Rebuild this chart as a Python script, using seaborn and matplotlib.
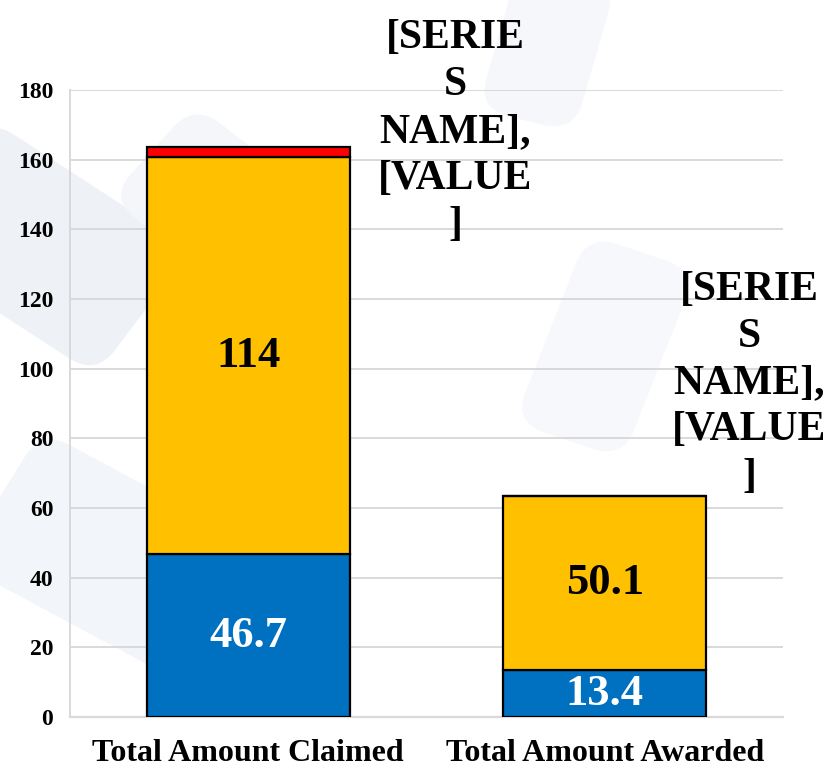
import matplotlib
matplotlib.use("Agg")
import matplotlib.pyplot as plt
import seaborn as sns
import numpy as np
from matplotlib.patches import FancyBboxPatch
import matplotlib.transforms as mtransforms

# data
categories = ["Total Amount Claimed", "Total Amount Awarded"]
blue_vals = [46.7, 13.4]
yellow_vals = [114, 50.1]
red_vals = [2.9, 0.0]
yticks = list(range(0, 181, 20))

BLUE = "#0070C0"
YELLOW = "#FFC000"
RED = "#FF0000"
GRID = "#D9D9D9"

sns.set_theme(style="white")
plt.rcParams["font.family"] = ["Liberation Serif", "DejaVu Serif"]
plt.rcParams["font.weight"] = "bold"

fig = plt.figure(figsize=(8.29, 7.7), dpi=100)
fig.patch.set_facecolor("white")

# faint watermark shapes on a background axes behind the chart
bg = fig.add_axes([0, 0, 1, 1], zorder=-10)
bg.set_xlim(0, 1)
bg.set_ylim(0, 1)
bg.axis("off")
shapes = [
    (-0.10, 0.58, 0.30, 0.20, -35, "#EEF2F7"),
    (-0.02, 0.18, 0.30, 0.20, -30, "#F2F5F9"),
    (0.16, 0.66, 0.20, 0.16, -40, "#F4F6F9"),
    (0.60, 0.84, 0.12, 0.20, -15, "#F5F7FA"),
    (0.66, 0.42, 0.14, 0.26, -20, "#F6F8FB"),
]
for (x0, y0, w, h, ang, col) in shapes:
    p = FancyBboxPatch((x0, y0), w, h, boxstyle="round,pad=0.0,rounding_size=0.04",
                       facecolor=col, edgecolor="none")
    p.set_transform(mtransforms.Affine2D().rotate_deg_around(x0 + w / 2, y0 + h / 2, ang)
                    + bg.transData)
    bg.add_patch(p)

ax = fig.add_axes([0.0844, 0.0688, 0.860, 0.8143])
ax.set_facecolor("none")

x_idx = np.arange(len(categories))
bottom_yellow = np.array(blue_vals)
bottom_red = bottom_yellow + np.array(yellow_vals)

bar_kw = dict(width=0.57, edgecolor="black", linewidth=1.6, zorder=3,
              saturation=1, native_scale=True)
sns.barplot(x=x_idx, y=blue_vals, color=BLUE, ax=ax, **bar_kw)
sns.barplot(x=x_idx, y=yellow_vals, bottom=bottom_yellow, color=YELLOW, ax=ax, **bar_kw)
sns.barplot(x=x_idx, y=red_vals, bottom=bottom_red, color=RED, ax=ax, **bar_kw)

ax.set_xlim(-0.5, 1.5)
ax.set_ylim(0, 180)
ax.set_yticks(yticks)
ax.set_xticks(x_idx)
ax.set_xticklabels(categories, fontsize=23, fontweight="bold")
ax.set_yticklabels([str(v) for v in yticks], fontsize=17, fontweight="bold")
ax.tick_params(axis="both", length=0, colors="black")
ax.tick_params(axis="x", pad=16)
ax.tick_params(axis="y", pad=12)

ax.yaxis.grid(True, color=GRID, linewidth=1.4, zorder=0)
ax.set_axisbelow(True)
for side in ["top", "right"]:
    ax.spines[side].set_visible(False)
ax.spines["left"].set_color(GRID)
ax.spines["left"].set_linewidth(1.4)
ax.spines["bottom"].set_color(GRID)
ax.spines["bottom"].set_linewidth(1.6)
ax.set_xlabel("")
ax.set_ylabel("")

# value labels
for i in x_idx:
    ax.text(i, blue_vals[i] / 2, f"{blue_vals[i]:g}", ha="center", va="center",
            fontsize=32, fontweight="bold", color="white", zorder=5)
    ax.text(i, bottom_yellow[i] + yellow_vals[i] / 2, f"{yellow_vals[i]:g}",
            ha="center", va="center", fontsize=32, fontweight="bold",
            color="black", zorder=5)

# placeholder labels for the red series (unresolved Excel data labels)
series_label = "[SERIE\nS\nNAME],\n[VALUE\n]"
offsets = [(76, 11), (31, 81)]
for i in x_idx:
    top = bottom_red[i] + red_vals[i]
    ax.annotate(series_label, xy=(i + 0.285, top), xytext=offsets[i],
                textcoords="offset points", ha="center", va="center",
                fontsize=30, fontweight="bold", linespacing=1.3,
                color="black", zorder=5, annotation_clip=False)

fig.savefig("out.png", dpi=100)
